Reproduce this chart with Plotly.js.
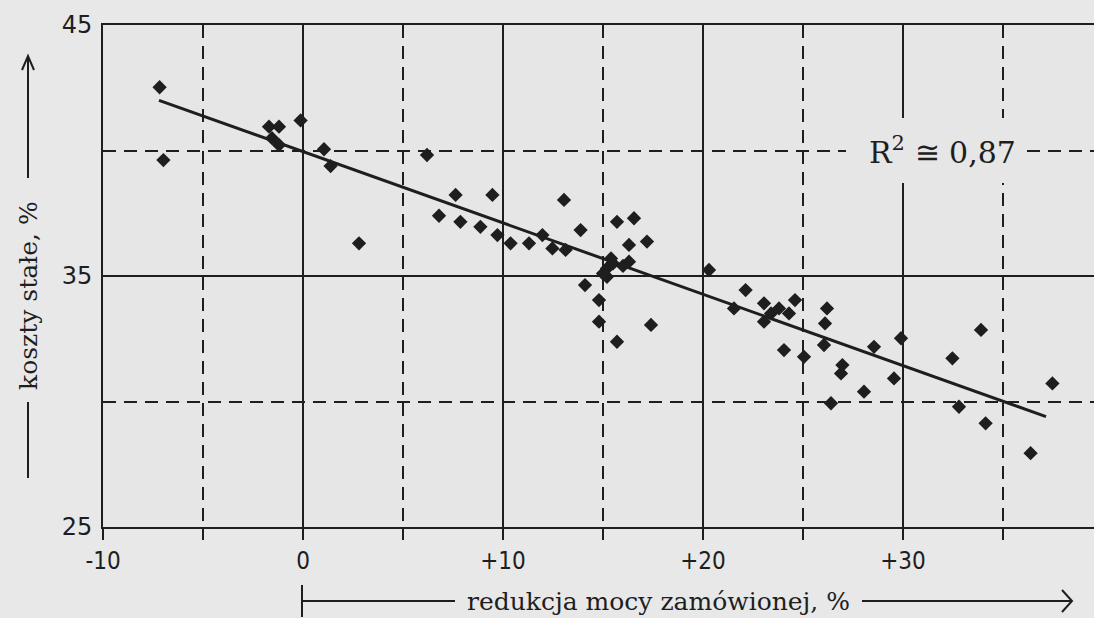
<!DOCTYPE html>
<html>
<head>
<meta charset="utf-8">
<script src="https://cdn.plot.ly/plotly-3.0.1.min.js"></script>
<style>html,body{margin:0;padding:0;background:#e8e8e8;}#chart{width:1094px;height:618px;}</style>
</head>
<body>
<div id="chart"></div>
<script>
// ---- data ----
const reductionPct = [
  -7.17, -6.98, -1.70, -1.20, -1.55, -1.20, -0.12, 1.05, 1.38, 2.80,
  6.20, 6.80, 7.63, 7.87, 8.87, 9.47, 9.72, 10.38, 11.30, 11.97,
  12.47, 13.13, 13.05, 13.88, 14.10, 14.80, 14.80, 15.20, 15.20, 15.70,
  15.70, 16.30, 16.30, 16.55, 17.20, 17.40, 15.50, 15.00, 16.00, 15.40,
  20.30, 21.55, 22.13, 23.05, 23.05, 23.40, 23.80, 24.05, 24.30, 24.60,
  25.05, 26.05, 26.10, 26.20, 26.40, 26.90, 26.97, 28.05, 28.55, 29.55,
  29.90, 32.47, 32.80, 33.90, 34.13, 36.38, 37.47
];
const fixedCostPct = [
  42.52, 39.62, 40.95, 40.95, 40.49, 40.22, 41.20, 40.05, 39.38, 36.30,
  39.82, 37.40, 38.23, 37.16, 36.96, 38.23, 36.63, 36.30, 36.30, 36.63,
  36.10, 36.04, 38.03, 36.83, 34.64, 34.04, 33.18, 35.30, 34.97, 37.16,
  32.38, 36.24, 35.57, 37.30, 36.37, 33.05, 35.50, 35.10, 35.40, 35.70,
  35.24, 33.71, 34.44, 33.91, 33.18, 33.51, 33.71, 32.05, 33.51, 34.04,
  31.78, 32.25, 33.11, 33.71, 29.93, 31.12, 31.45, 30.39, 32.18, 30.92,
  32.52, 31.72, 29.79, 32.85, 29.13, 27.94, 30.72
];
const trendX = [-7.2, 37.15];
const trendY = [42.0, 29.4];

const xTickVals = [-10, 0, 10, 20, 30];
const xTickText = ['-10', '0', '+10', '+20', '+30'];
const xMinorVals = [-5, 5, 15, 25, 35];
const yTickVals = [25, 35, 45];
const yTickText = ['25', '35', '45'];
const yMinorVals = [30, 40];

const r2Text = 'R<sup>2</sup> ≅ 0,87';
const xTitle = 'redukcja mocy zamówionej, %';
const yTitle = 'koszty stałe, %';

// ---- layout helpers (pixel -> paper) ----
const L = 103, R = 1094, T = 25, B = 527;
const px = v => (v - L) / (R - L);
const py = v => (B - v) / (B - T);
const ink = '#1e1e1e';
const bg = '#e6e6e6';
const dash = '13px,8px';

const traces = [
  {x: trendX, y: trendY, mode: 'lines', type: 'scatter',
   line: {color: ink, width: 3}, hoverinfo: 'skip', showlegend: false},
  {x: reductionPct, y: fixedCostPct, mode: 'markers', type: 'scatter',
   marker: {symbol: 'diamond', size: 11, color: ink}, showlegend: false}
];

const layout = {
  width: 1094, height: 618,
  margin: {l: L, r: 0, t: T, b: 618 - B, pad: 0},
  paper_bgcolor: '#e8e8e8', plot_bgcolor: bg,
  showlegend: false,
  xaxis: {
    range: [-10, -10 + (R - L) / 20], fixedrange: true,
    tickmode: 'array', tickvals: xTickVals, ticktext: xTickText,
    ticks: 'outside', ticklen: 11, tickwidth: 2, tickcolor: ink,
    tickfont: {family: 'Liberation Sans Narrow, DejaVu Sans Condensed, Liberation Sans', size: 24, color: ink},
    ticklabelstandoff: 0,
    showgrid: true, gridcolor: ink, gridwidth: 2,
    zeroline: false, showline: true, linecolor: ink, linewidth: 2, mirror: true,
    minor: {tickmode: 'array', tickvals: xMinorVals, ticks: 'outside', ticklen: 11,
            tickwidth: 2, tickcolor: ink, showgrid: true, gridcolor: ink, gridwidth: 2, griddash: dash}
  },
  yaxis: {
    range: [25, 45], fixedrange: true,
    tickmode: 'array', tickvals: yTickVals, ticktext: yTickText,
    ticks: 'inside', ticklen: 10, tickwidth: 2, tickcolor: ink,
    tickfont: {family: 'DejaVu Sans', size: 24, color: ink},
    ticklabelstandoff: 4,
    showgrid: true, gridcolor: ink, gridwidth: 2,
    zeroline: false, showline: true, linecolor: ink, linewidth: 2, mirror: false,
    minor: {tickmode: 'array', tickvals: yMinorVals, ticks: 'inside', ticklen: 10,
            tickwidth: 2, tickcolor: ink, showgrid: true, gridcolor: ink, gridwidth: 2, griddash: dash}
  },
  shapes: [
    // box behind R^2 label (hides grid)
    {type: 'rect', xref: 'paper', yref: 'paper', layer: 'above',
     x0: px(846), x1: px(1026), y0: py(183), y1: py(118),
     fillcolor: bg, line: {width: 0}},
    // y title decorations
    {type: 'line', xref: 'paper', yref: 'paper', x0: px(28), x1: px(28), y0: py(402), y1: py(478),
     line: {color: ink, width: 2}},
    {type: 'line', xref: 'paper', yref: 'paper', x0: px(28), x1: px(28), y0: py(178), y1: py(57),
     line: {color: ink, width: 2}},
    {type: 'path', xref: 'paper', yref: 'paper',
     path: `M ${px(22)} ${py(70)} L ${px(28)} ${py(56)} L ${px(34)} ${py(70)}`,
     line: {color: ink, width: 2}},
    // x title decorations
    {type: 'line', xref: 'paper', yref: 'paper', x0: px(302), x1: px(302), y0: py(585), y1: py(617),
     line: {color: ink, width: 2}},
    {type: 'line', xref: 'paper', yref: 'paper', x0: px(302), x1: px(455), y0: py(601), y1: py(601),
     line: {color: ink, width: 2}},
    {type: 'line', xref: 'paper', yref: 'paper', x0: px(862), x1: px(1071), y0: py(601), y1: py(601),
     line: {color: ink, width: 2}},
    {type: 'path', xref: 'paper', yref: 'paper',
     path: `M ${px(1062)} ${py(590)} L ${px(1072)} ${py(601)} L ${px(1062)} ${py(612)}`,
     line: {color: ink, width: 2}}
  ],
  annotations: [
    {text: r2Text, xref: 'paper', yref: 'paper', x: px(942), y: py(150),
     xanchor: 'center', yanchor: 'middle', showarrow: false,
     font: {family: 'DejaVu Serif', size: 30, color: ink}},
    {text: xTitle, xref: 'paper', yref: 'paper', x: px(658), y: py(601),
     xanchor: 'center', yanchor: 'middle', showarrow: false,
     font: {family: 'DejaVu Serif', size: 25, color: ink}},
    {text: yTitle, xref: 'paper', yref: 'paper', x: px(28), y: py(296),
     xanchor: 'center', yanchor: 'middle', showarrow: false, textangle: -90,
     font: {family: 'DejaVu Serif', size: 25, color: ink}}
  ]
};

Plotly.newPlot('chart', traces, layout, {displayModeBar: false, staticPlot: true});
</script>
</body>
</html>
